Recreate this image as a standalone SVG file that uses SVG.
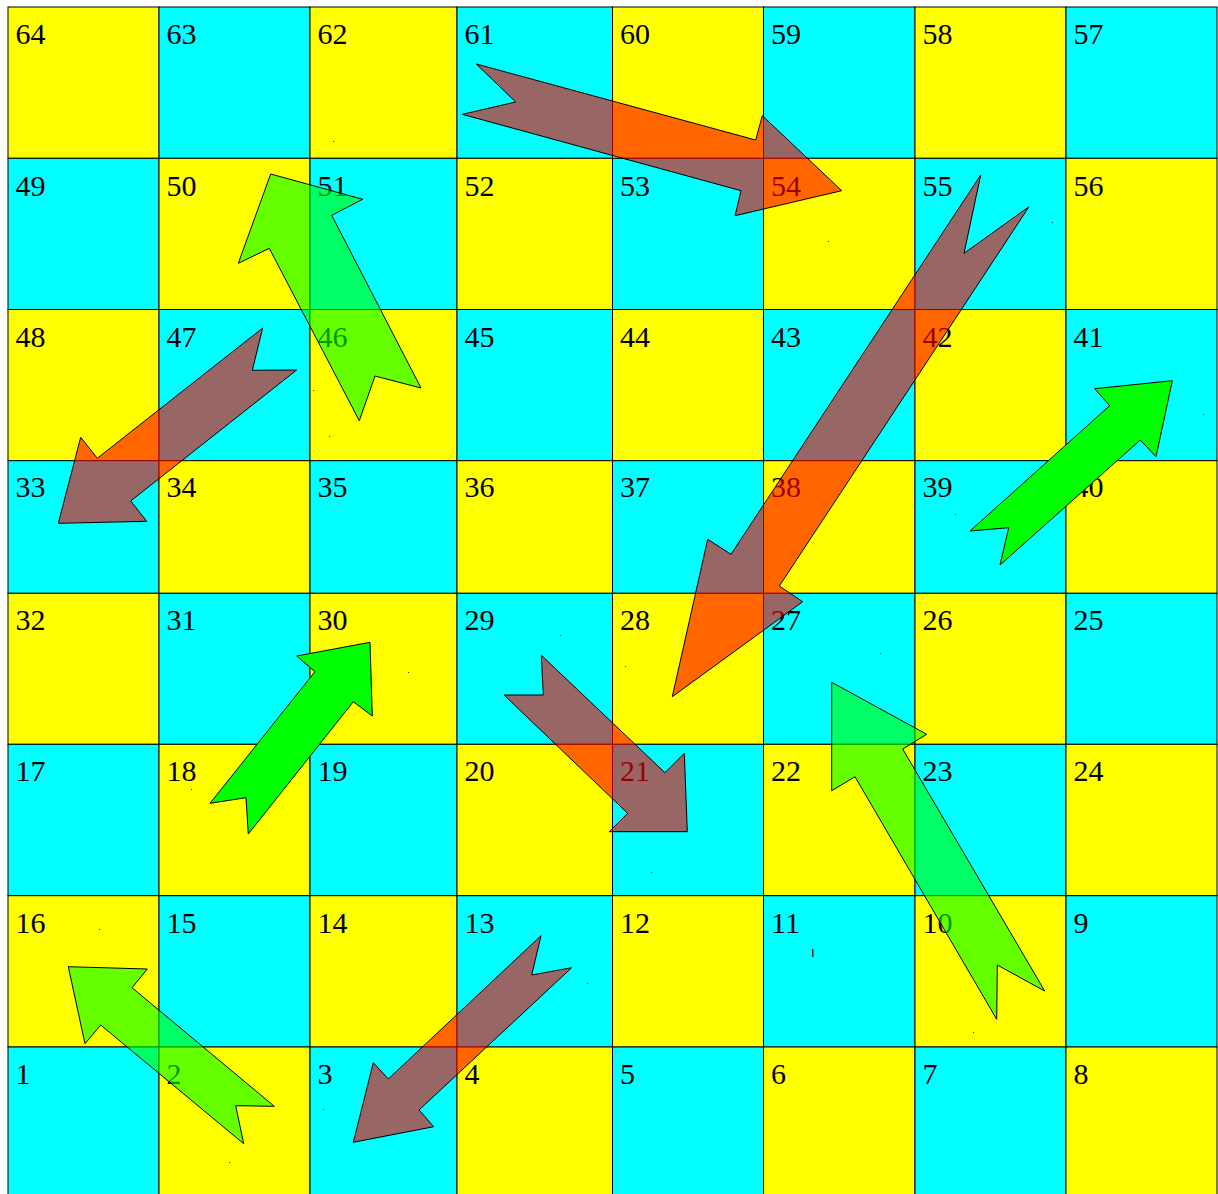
<svg xmlns="http://www.w3.org/2000/svg" width="1218" height="1194" viewBox="0 0 1218 1194">
<style>
.y{fill:#ffff00;stroke:#000;stroke-width:1}
.c{fill:#00ffff;stroke:#000;stroke-width:1}
.n{font-family:"Liberation Serif","Times New Roman",serif;font-size:30px;fill:#000}
.snake{fill:#ff0000;fill-opacity:0.6;stroke:#000;stroke-width:1;stroke-linejoin:miter}
.lad{fill:#00ff00;fill-opacity:0.6;stroke:#000;stroke-width:1}
.lads{fill:#00ff00;stroke:#000;stroke-width:1}
.sp{fill:#333}
</style>
<rect x="0" y="0" width="1218" height="1194" fill="#ffffff"/>
<g id="board">
<!-- row 0 -->
<g id="c64"><rect class="y" x="8" y="7" width="151" height="151.3"/><text class="n" x="15.5" y="44">64</text></g>
<g id="c63"><rect class="c" x="159" y="7" width="151" height="151.3"/><text class="n" x="166.5" y="44">63</text></g>
<g id="c62"><rect class="y" x="310" y="7" width="147" height="151.3"/><text class="n" x="317.5" y="44">62</text></g>
<g id="c61"><rect class="c" x="457" y="7" width="155.5" height="151.3"/><text class="n" x="464.5" y="44">61</text></g>
<g id="c60"><rect class="y" x="612.5" y="7" width="151" height="151.3"/><text class="n" x="620" y="44">60</text></g>
<g id="c59"><rect class="c" x="763.5" y="7" width="151.5" height="151.3"/><text class="n" x="771" y="44">59</text></g>
<g id="c58"><rect class="y" x="915" y="7" width="151" height="151.3"/><text class="n" x="922.5" y="44">58</text></g>
<g id="c57"><rect class="c" x="1066" y="7" width="151" height="151.3"/><text class="n" x="1073.5" y="44">57</text></g>
<!-- row 1 -->
<g id="c49"><rect class="c" x="8" y="158.3" width="151" height="151.2"/><text class="n" x="15.5" y="195.5">49</text></g>
<g id="c50"><rect class="y" x="159" y="158.3" width="151" height="151.2"/><text class="n" x="166.5" y="195.5">50</text></g>
<g id="c51"><rect class="c" x="310" y="158.3" width="147" height="151.2"/><text class="n" x="317.5" y="195.5">51</text></g>
<g id="c52"><rect class="y" x="457" y="158.3" width="155.5" height="151.2"/><text class="n" x="464.5" y="195.5">52</text></g>
<g id="c53"><rect class="c" x="612.5" y="158.3" width="151" height="151.2"/><text class="n" x="620" y="195.5">53</text></g>
<g id="c54"><rect class="y" x="763.5" y="158.3" width="151.5" height="151.2"/><text class="n" x="771" y="195.5">54</text></g>
<g id="c55"><rect class="c" x="915" y="158.3" width="151" height="151.2"/><text class="n" x="922.5" y="195.5">55</text></g>
<g id="c56"><rect class="y" x="1066" y="158.3" width="151" height="151.2"/><text class="n" x="1073.5" y="195.5">56</text></g>
<!-- row 2 -->
<g id="c48"><rect class="y" x="8" y="309.5" width="151" height="151.2"/><text class="n" x="15.5" y="346.7">48</text></g>
<g id="c47"><rect class="c" x="159" y="309.5" width="151" height="151.2"/><text class="n" x="166.5" y="346.7">47</text></g>
<g id="c46"><rect class="y" x="310" y="309.5" width="147" height="151.2"/><text class="n" x="317.5" y="346.7">46</text></g>
<g id="c45"><rect class="c" x="457" y="309.5" width="155.5" height="151.2"/><text class="n" x="464.5" y="346.7">45</text></g>
<g id="c44"><rect class="y" x="612.5" y="309.5" width="151" height="151.2"/><text class="n" x="620" y="346.7">44</text></g>
<g id="c43"><rect class="c" x="763.5" y="309.5" width="151.5" height="151.2"/><text class="n" x="771" y="346.7">43</text></g>
<g id="c42"><rect class="y" x="915" y="309.5" width="151" height="151.2"/><text class="n" x="922.5" y="346.7">42</text></g>
<g id="c41"><rect class="c" x="1066" y="309.5" width="151" height="151.2"/><text class="n" x="1073.5" y="346.7">41</text></g>
<!-- row 3 -->
<g id="c33"><rect class="c" x="8" y="460.7" width="151" height="132.6"/><text class="n" x="15.5" y="497">33</text></g>
<g id="c34"><rect class="y" x="159" y="460.7" width="151" height="132.6"/><text class="n" x="166.5" y="497">34</text></g>
<g id="c35"><rect class="c" x="310" y="460.7" width="147" height="132.6"/><text class="n" x="317.5" y="497">35</text></g>
<g id="c36"><rect class="y" x="457" y="460.7" width="155.5" height="132.6"/><text class="n" x="464.5" y="497">36</text></g>
<g id="c37"><rect class="c" x="612.5" y="460.7" width="151" height="132.6"/><text class="n" x="620" y="497">37</text></g>
<g id="c38"><rect class="y" x="763.5" y="460.7" width="151.5" height="132.6"/><text class="n" x="771" y="497">38</text></g>
<g id="c39"><rect class="c" x="915" y="460.7" width="151" height="132.6"/><text class="n" x="922.5" y="497">39</text></g>
<g id="c40"><rect class="y" x="1066" y="460.7" width="151" height="132.6"/><text class="n" x="1073.5" y="497">40</text></g>
<!-- row 4 -->
<g id="c32"><rect class="y" x="8" y="593.3" width="151" height="151"/><text class="n" x="15.5" y="630.3">32</text></g>
<g id="c31"><rect class="c" x="159" y="593.3" width="151" height="151"/><text class="n" x="166.5" y="630.3">31</text></g>
<g id="c30"><rect class="y" x="310" y="593.3" width="147" height="151"/><text class="n" x="317.5" y="630.3">30</text></g>
<g id="c29"><rect class="c" x="457" y="593.3" width="155.5" height="151"/><text class="n" x="464.5" y="630.3">29</text></g>
<g id="c28"><rect class="y" x="612.5" y="593.3" width="151" height="151"/><text class="n" x="620" y="630.3">28</text></g>
<g id="c27"><rect class="c" x="763.5" y="593.3" width="151.5" height="151"/><text class="n" x="771" y="630.3">27</text></g>
<g id="c26"><rect class="y" x="915" y="593.3" width="151" height="151"/><text class="n" x="922.5" y="630.3">26</text></g>
<g id="c25"><rect class="c" x="1066" y="593.3" width="151" height="151"/><text class="n" x="1073.5" y="630.3">25</text></g>
<!-- row 5 -->
<g id="c17"><rect class="c" x="8" y="744.3" width="151" height="151.4"/><text class="n" x="15.5" y="781.3">17</text></g>
<g id="c18"><rect class="y" x="159" y="744.3" width="151" height="151.4"/><text class="n" x="166.5" y="781.3">18</text></g>
<g id="c19"><rect class="c" x="310" y="744.3" width="147" height="151.4"/><text class="n" x="317.5" y="781.3">19</text></g>
<g id="c20"><rect class="y" x="457" y="744.3" width="155.5" height="151.4"/><text class="n" x="464.5" y="781.3">20</text></g>
<g id="c21"><rect class="c" x="612.5" y="744.3" width="151" height="151.4"/><text class="n" x="620" y="781.3">21</text></g>
<g id="c22"><rect class="y" x="763.5" y="744.3" width="151.5" height="151.4"/><text class="n" x="771" y="781.3">22</text></g>
<g id="c23"><rect class="c" x="915" y="744.3" width="151" height="151.4"/><text class="n" x="922.5" y="781.3">23</text></g>
<g id="c24"><rect class="y" x="1066" y="744.3" width="151" height="151.4"/><text class="n" x="1073.5" y="781.3">24</text></g>
<!-- row 6 -->
<g id="c16"><rect class="y" x="8" y="895.7" width="151" height="151.3"/><text class="n" x="15.5" y="932.7">16</text></g>
<g id="c15"><rect class="c" x="159" y="895.7" width="151" height="151.3"/><text class="n" x="166.5" y="932.7">15</text></g>
<g id="c14"><rect class="y" x="310" y="895.7" width="147" height="151.3"/><text class="n" x="317.5" y="932.7">14</text></g>
<g id="c13"><rect class="c" x="457" y="895.7" width="155.5" height="151.3"/><text class="n" x="464.5" y="932.7">13</text></g>
<g id="c12"><rect class="y" x="612.5" y="895.7" width="151" height="151.3"/><text class="n" x="620" y="932.7">12</text></g>
<g id="c11"><rect class="c" x="763.5" y="895.7" width="151.5" height="151.3"/><text class="n" x="771" y="932.7">11</text></g>
<g id="c10"><rect class="y" x="915" y="895.7" width="151" height="151.3"/><text class="n" x="922.5" y="932.7">10</text></g>
<g id="c9"><rect class="c" x="1066" y="895.7" width="151" height="151.3"/><text class="n" x="1073.5" y="932.7">9</text></g>
<!-- row 7 -->
<g id="c1"><rect class="c" x="8" y="1047" width="151" height="152"/><text class="n" x="15.5" y="1084">1</text></g>
<g id="c2"><rect class="y" x="159" y="1047" width="151" height="152"/><text class="n" x="166.5" y="1084">2</text></g>
<g id="c3"><rect class="c" x="310" y="1047" width="147" height="152"/><text class="n" x="317.5" y="1084">3</text></g>
<g id="c4"><rect class="y" x="457" y="1047" width="155.5" height="152"/><text class="n" x="464.5" y="1084">4</text></g>
<g id="c5"><rect class="c" x="612.5" y="1047" width="151" height="152"/><text class="n" x="620" y="1084">5</text></g>
<g id="c6"><rect class="y" x="763.5" y="1047" width="151.5" height="152"/><text class="n" x="771" y="1084">6</text></g>
<g id="c7"><rect class="c" x="915" y="1047" width="151" height="152"/><text class="n" x="922.5" y="1084">7</text></g>
<g id="c8"><rect class="y" x="1066" y="1047" width="151" height="152"/><text class="n" x="1073.5" y="1084">8</text></g>
</g>
<g id="specks">
<rect class="sp" x="812" y="949" width="1.5" height="8"/>
<rect class="sp" x="333" y="141" width="1" height="1"/>
<rect class="sp" x="828" y="241" width="1" height="1"/>
<rect class="sp" x="1052" y="222" width="1" height="1"/>
<rect class="sp" x="313" y="390" width="1" height="1"/>
<rect class="sp" x="329" y="436" width="1" height="1"/>
<rect class="sp" x="1203" y="414" width="1" height="1"/>
<rect class="sp" x="955" y="514" width="1" height="1"/>
<rect class="sp" x="560" y="635" width="1" height="1"/>
<rect class="sp" x="625" y="666" width="1" height="1"/>
<rect class="sp" x="408" y="672" width="1" height="1"/>
<rect class="sp" x="880" y="653" width="1" height="1"/>
<rect class="sp" x="191" y="789" width="1" height="1"/>
<rect class="sp" x="651" y="872" width="1" height="1"/>
<rect class="sp" x="99" y="929" width="1" height="1"/>
<rect class="sp" x="587" y="983" width="1" height="1"/>
<rect class="sp" x="973" y="1032" width="1" height="1"/>
<rect class="sp" x="323" y="1109" width="1" height="1"/>
<rect class="sp" x="229" y="1162" width="1" height="1"/>
</g>
<g id="connectors">
<polygon id="s61-54" class="snake" points="476.3,64 515.7,102 462.3,114.3 741,190.7 735,215.7 841.7,190.7 762.3,115.7 755.7,140"/>
<polygon id="s55-28" class="snake" points="980.7,175 964,253.3 1029,206.7 779.3,586 802.7,601.7 672.3,696.7 707.7,539.3 731,554.3"/>
<polygon id="s47-33" class="snake" points="262.7,328 252.3,370.3 296.7,370 130.7,501 146.7,521.3 58.3,523.3 80.7,437.3 97.3,458.3"/>
<polygon id="l46-51" class="lad" points="270.7,174 362.7,199.3 331.7,215.3 421,388 375,376 359.3,420.7 269.3,248.3 238.3,263.3"/>
<polygon id="l39-41" class="lads" points="1172.3,380.7 1156,456.7 1140.3,440 1000,565 1008.7,527.7 970,531 1109.7,405.7 1094.7,388.7"/>
<polygon id="l18-30" class="lads" points="370,642.3 372.3,716 353.3,701.7 248.3,834 246,797.7 210,803.3 315,671.7 296.7,656"/>
<polygon id="s29-21" class="snake" points="541.3,655.3 543.3,695 504,695 627.7,813.3 609.3,831.7 687.3,831.7 684.3,753.3 665,772.7"/>
<polygon id="l10-23" class="lad" points="831.7,682.3 926.7,734.3 902.7,749 1044.7,991 997.3,965 996.7,1019.3 855,776.7 831.7,790.7"/>
<polygon id="s13-3" class="snake" points="541,935.7 531.7,975 571.7,967.7 419,1110 433.7,1126.7 353.3,1142.3 373.3,1062.7 388.3,1079"/>
<polygon id="l2-16" class="lad" points="68.3,966.7 147.3,969 132,987.7 274.3,1106.3 235.7,1105.7 243.7,1143.7 100.7,1025 85,1043.7"/>
</g>
</svg>
